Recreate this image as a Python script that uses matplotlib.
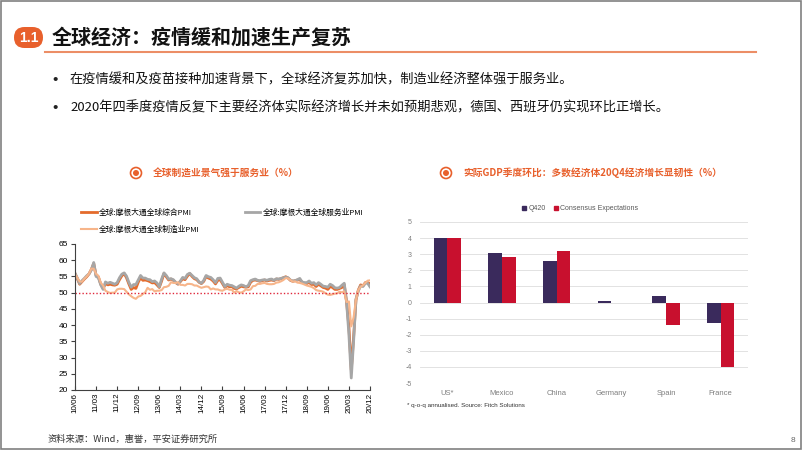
import matplotlib.pyplot as plt
from matplotlib.patches import Circle, FancyBboxPatch, Rectangle, Patch

plt.rcParams['font.family'] = ['Noto Sans CJK SC', 'DejaVu Sans']
EN = ['Liberation Sans', 'Noto Sans CJK SC']

# 月度数据 2010/06 - 2020/12
tick_labels = ['10/06', '11/03', '11/12', '12/09', '13/06', '14/03', '14/12', '15/09',
               '16/06', '17/03', '17/12', '18/09', '19/06', '20/03', '20/12']

pmi_composite = [
    55.9, 54.3, 52.6, 53.4, 54.2, 54.9, 55.8,
    57.2, 59.0, 55.3, 54.8, 52.6, 51.3, 52.8, 52.4, 52.6, 52.4, 52.3, 52.6,
    54.0, 55.2, 55.9, 54.6, 52.7, 51.0, 51.6, 51.3, 53.2, 54.6, 53.8, 53.9,
    53.7, 53.4, 53.0, 53.1, 52.4, 51.6, 53.6, 55.9, 54.9, 53.9, 54.2, 53.8,
    53.1, 52.6, 53.4, 54.3, 54.0, 55.1, 55.9, 55.0, 54.3, 54.0, 53.2, 52.8,
    53.5, 55.0, 54.5, 54.2, 53.6, 52.7, 53.8, 54.0, 52.8, 51.6, 52.2, 51.8,
    51.9, 51.3, 51.2, 51.6, 52.0, 51.8, 51.7, 51.8, 53.2, 53.8, 53.9, 53.7,
    53.5, 53.7, 53.9, 53.6, 53.8, 53.9, 53.7, 54.2, 54.1, 54.3, 54.6, 54.9,
    54.5, 53.8, 53.5, 53.7, 53.9, 54.0, 53.2, 52.9, 52.8, 53.2, 52.5, 52.6,
    51.9, 52.6, 52.1, 51.6, 51.4, 51.0, 51.9, 51.6, 51.0, 51.0, 51.3, 51.6,
    52.5, 47.1, 39.4, 26.2, 36.3, 47.7, 50.8, 52.4, 52.1, 53.1, 53.1, 52.7,
]

pmi_services = [
    56.0, 54.5, 52.8, 53.7, 54.4, 55.2, 55.8,
    57.0, 59.3, 55.0, 54.6, 52.4, 51.0, 53.3, 52.9, 53.2, 52.9, 52.6, 53.1,
    54.6, 55.7, 56.1, 55.1, 53.2, 51.7, 52.5, 52.5, 53.9, 55.3, 54.5, 54.5,
    54.1, 54.0, 53.4, 53.6, 53.0, 51.8, 54.2, 56.1, 55.3, 54.2, 54.3, 54.0,
    53.2, 52.7, 53.6, 54.7, 54.4, 55.6, 56.0, 55.3, 54.6, 54.3, 53.3, 52.9,
    53.8, 55.3, 54.9, 54.7, 54.0, 53.1, 54.4, 54.5, 53.2, 51.9, 52.6, 52.3,
    52.2, 51.8, 51.4, 52.0, 52.4, 52.2, 51.8, 52.2, 53.7, 54.0, 54.2, 53.8,
    53.7, 53.9, 54.0, 53.8, 54.1, 54.2, 53.8, 54.3, 54.2, 54.4, 54.6, 54.8,
    54.6, 53.9, 53.6, 53.7, 54.0, 54.4, 53.3, 53.1, 53.1, 53.6, 52.9, 53.1,
    52.4, 53.1, 52.6, 52.0, 51.9, 51.7, 52.6, 52.2, 51.5, 51.4, 51.6, 52.3,
    52.9, 47.1, 37.0, 23.7, 35.1, 48.0, 50.5, 52.1, 51.9, 52.9, 52.9, 51.8,
]

pmi_manufacturing = [
    55.6, 54.6, 53.4, 53.4, 54.3, 55.0, 55.9,
    57.4, 57.4, 55.8, 55.2, 53.1, 52.2, 50.6, 50.2, 49.9, 50.0, 50.0, 51.0,
    51.2, 51.2, 51.1, 50.3, 49.5, 48.9, 48.4, 48.1, 48.8, 49.0, 49.6, 50.1,
    51.5, 50.9, 51.1, 50.4, 50.6, 50.6, 50.8, 51.7, 51.8, 52.1, 53.2, 53.0,
    53.0, 53.2, 52.4, 52.4, 52.2, 52.7, 52.7, 52.6, 52.2, 52.2, 51.8, 51.5,
    51.7, 51.9, 51.8, 51.0, 51.3, 51.0, 51.0, 50.7, 50.6, 51.0, 51.2, 50.9,
    50.9, 50.0, 50.5, 50.1, 50.0, 50.4, 51.0, 50.8, 51.0, 52.0, 52.1, 52.7,
    52.7, 52.9, 53.0, 52.7, 52.6, 52.6, 52.7, 53.1, 53.2, 53.5, 53.9, 54.5,
    54.4, 53.9, 53.4, 53.5, 53.1, 53.0, 52.8, 52.5, 52.2, 52.0, 51.8, 51.4,
    50.8, 50.6, 50.5, 50.3, 49.8, 49.4, 49.3, 49.5, 49.7, 49.8, 50.3, 50.1,
    50.4, 47.1, 47.3, 39.6, 42.4, 47.8, 50.8, 51.8, 52.3, 53.0, 53.7, 53.8,
]

countries = ['US*', 'Mexico', 'China', 'Germany', 'Spain', 'France']
gdp_q420 = [4.0, 3.1, 2.6, 0.1, 0.4, -1.3]
gdp_consensus = [4.0, 2.8, 3.2, 0.0, -1.4, -4.0]

ORANGE = '#E8602C'
W, H = 802, 451

fig = plt.figure(figsize=(W / 100, H / 100), dpi=100)
fig.patch.set_facecolor('white')

# overlay in pixel coordinates for slide decoration
ov = fig.add_axes([0, 0, 1, 1])
ov.set_xlim(0, W)
ov.set_ylim(H, 0)
ov.axis('off')

ov.add_patch(Rectangle((1, 1), W - 2.5, H - 3, fill=False, ec='#808080', lw=1.2))
ov.add_patch(FancyBboxPatch((14, 27), 29, 21, boxstyle='round,pad=0,rounding_size=10.5',
                            fc=ORANGE, ec='none'))
ov.text(28.5, 38, '1.1', color='white', fontsize=10, fontweight='bold', family=EN,
        ha='center', va='center')
ov.text(52, 37, '全球经济：疫情缓和加速生产复苏', fontsize=14.4, fontweight='bold',
        ha='left', va='center', color='#111111')
ov.plot([45, 756], [52, 52], color='#EC8E66', lw=1.5)

ov.text(52, 80, '•', fontsize=11, ha='left', va='center', color='#222222', family=EN)
ov.text(70, 80, '在疫情缓和及疫苗接种加速背景下，全球经济复苏加快，制造业经济整体强于服务业。',
        fontsize=9.5, ha='left', va='center', color='#111111')
ov.text(52, 108, '•', fontsize=11, ha='left', va='center', color='#222222', family=EN)
ov.text(70, 108, '2020年四季度疫情反复下主要经济体实际经济增长并未如预期悲观，德国、西班牙仍实现环比正增长。',
        fontsize=9.5, ha='left', va='center', color='#111111')

for cx, txt in [(136, '全球制造业景气强于服务业（%）'),
                (446, '实际GDP季度环比：多数经济体20Q4经济增长显韧性（%）')]:
    ov.add_patch(Circle((cx, 173), 5.5, fill=False, ec=ORANGE, lw=1.2))
    ov.add_patch(Circle((cx, 173), 3, fc=ORANGE, ec='none'))
    ov.text(cx + 17, 173, txt, fontsize=7, color=ORANGE, ha='left', va='center',
            fontweight='bold')

ov.text(48, 439, '资料来源：Wind，惠誉，平安证券研究所', fontsize=6.7, color='#333333',
        ha='left', va='center')
ov.text(793, 441, '8', fontsize=6, color='#666666', ha='center', va='center', family=EN)
ov.text(407, 405, '* q-o-q annualised. Source: Fitch Solutions', fontsize=4.5,
        color='#333333', ha='left', va='center', family=EN)

# left: PMI lines
ax1 = fig.add_axes([75 / W, 1 - 390 / H, 295 / W, 146 / H])
x = list(range(len(pmi_composite)))
l1, = ax1.plot(x, pmi_composite, color='#E46B2C', lw=2.0)
l2, = ax1.plot(x, pmi_services, color='#A6A6A6', lw=2.0)
l3, = ax1.plot(x, pmi_manufacturing, color='#F7B58A', lw=1.5)
ax1.axhline(50, color='#E0283C', lw=1.0, ls=(0, (1, 1.5)))
ax1.set_xlim(0, len(x) - 1)
ax1.set_ylim(20, 65)
ax1.set_yticks(range(20, 70, 5))
ax1.set_xticks(range(0, len(x), 9))
ax1.set_xticklabels(tick_labels, rotation=90)
for s in ['top', 'right']:
    ax1.spines[s].set_visible(False)
for s in ['left', 'bottom']:
    ax1.spines[s].set_color('#404040')
    ax1.spines[s].set_linewidth(0.8)
ax1.tick_params(axis='y', labelsize=6, length=3, width=0.8, color='#404040', pad=2)
ax1.tick_params(axis='x', labelsize=5.8, length=3, width=0.8, direction='in',
                color='#404040', pad=2)
for t in ax1.get_xticklabels() + ax1.get_yticklabels():
    t.set_family(EN)
ax1.patch.set_alpha(0)

ax1.legend([l1, l3, l2], ['全球:摩根大通全球综合PMI', '全球:摩根大通全球制造业PMI',
                          '全球:摩根大通全球服务业PMI'],
           ncol=2, loc='upper left', bbox_to_anchor=(81 / W, 1 - 209 / H),
           bbox_transform=fig.transFigure, frameon=False, fontsize=5.6,
           handlelength=2.0, handletextpad=0.3, columnspacing=5.8,
           labelspacing=1.1, borderpad=0, borderaxespad=0)

# right: GDP bars
ax2 = fig.add_axes([420 / W, 1 - 383 / H, 328 / W, 161 / H])
pos = list(range(len(countries)))
w = 0.25
ax2.bar([p - w / 2 for p in pos], gdp_q420, w, color='#3A2A5C', zorder=3)
ax2.bar([p + w / 2 for p in pos], gdp_consensus, w, color='#C8102E', zorder=3)
ax2.set_xlim(-0.5, len(countries) - 0.5)
ax2.set_ylim(-5, 5)
ax2.set_yticks(range(-5, 6))
ax2.set_yticklabels([str(v) for v in range(-5, 6)])
ax2.yaxis.grid(True, color='#DDDDDD', lw=0.6, zorder=0)
ax2.set_xticks(pos)
ax2.set_xticklabels(countries)
for s in ax2.spines.values():
    s.set_visible(False)
ax2.tick_params(axis='both', length=0, colors='#7F7F7F')
ax2.tick_params(axis='y', labelsize=5, pad=6)
ax2.tick_params(axis='x', labelsize=5.5, pad=5)
for t in ax2.get_xticklabels() + ax2.get_yticklabels():
    t.set_family(EN)
ax2.patch.set_alpha(0)

ax2.legend([Patch(color='#3A2A5C'), Patch(color='#C8102E')],
           ['Q420', 'Consensus Expectations'], ncol=2, loc='center',
           bbox_to_anchor=(580 / W, 1 - 209 / H), bbox_transform=fig.transFigure,
           frameon=False, prop={'family': EN, 'size': 5}, labelcolor='#595959',
           handlelength=0.6, handleheight=0.6, handletextpad=0.3, columnspacing=1.2)

fig.savefig('out.png', dpi=100)
